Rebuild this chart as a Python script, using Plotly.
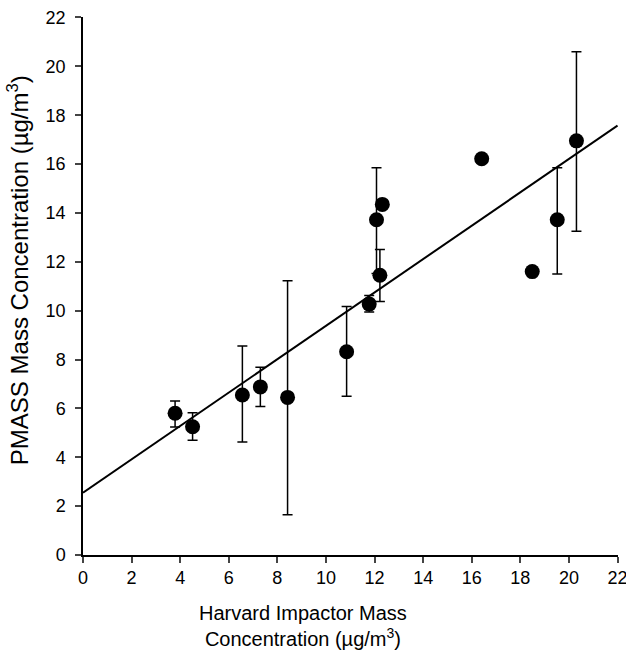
import plotly.graph_objects as go

# Harvard Impactor (x) vs PMASS (y) mass concentration, µg/m³
hi_conc = [3.79, 4.51, 6.56, 7.30, 8.42, 10.85, 11.78, 12.08, 12.22, 12.32, 16.41, 18.49, 19.52, 20.31]
pmass_conc = [5.80, 5.25, 6.55, 6.88, 6.45, 8.32, 10.27, 13.72, 11.45, 14.35, 16.22, 11.60, 13.72, 16.95]
err_upper = [6.30, 5.82, 8.55, 7.68, 11.22, 10.17, 10.62, 15.85, 12.50, 14.35, 16.22, 11.60, 15.85, 20.60]
err_lower = [5.24, 4.70, 4.62, 6.08, 1.65, 6.50, 9.95, 11.52, 10.38, 14.35, 16.22, 11.60, 11.50, 13.25]

# regression line
fit_intercept = 2.55
fit_slope = 0.683
fit_x = [0, 22]

x_ticks = list(range(0, 23, 2))
y_ticks = list(range(0, 23, 2))

plus = [u - y for u, y in zip(err_upper, pmass_conc)]
minus = [y - l for l, y in zip(err_lower, pmass_conc)]

fig = go.Figure()
fig.add_trace(go.Scatter(
    x=fit_x, y=[fit_intercept + fit_slope * v for v in fit_x],
    mode="lines", line=dict(color="black", width=2), hoverinfo="skip", showlegend=False,
    cliponaxis=False))
fig.add_trace(go.Scatter(
    x=hi_conc, y=pmass_conc, mode="markers",
    marker=dict(color="black", size=15, symbol="circle"),
    error_y=dict(type="data", array=plus, arrayminus=minus, symmetric=False,
                 color="black", thickness=1.5, width=5),
    showlegend=False))

font_family = "Liberation Sans, Arial, Helvetica, sans-serif"
fig.update_layout(
    width=626, height=652,
    margin=dict(l=83, r=8, t=17, b=97, autoexpand=False),
    paper_bgcolor="white", plot_bgcolor="white",
    font=dict(family=font_family, size=18, color="black"),
    xaxis=dict(range=[0, 22.02], tickvals=x_ticks, ticks="outside", ticklen=6, tickwidth=1.5,
               showline=True, linecolor="black", linewidth=1.5, showgrid=False, zeroline=False,
               tickfont=dict(size=18), automargin=False, ticklabeloverflow="allow"),
    yaxis=dict(range=[0, 22.02], tickvals=y_ticks, ticks="outside", ticklen=6, tickwidth=1.5,
               showline=True, linecolor="black", linewidth=1.5, showgrid=False, zeroline=False,
               tickfont=dict(size=18), automargin=False, ticklabeloverflow="allow",
               ticklabelstandoff=6),
    annotations=[
        dict(text="Harvard Impactor Mass<br>Concentration (µg/m<sup>3</sup>)",
             xref="paper", yref="paper", x=(303 - 83) / 535, y=-0.084,
             xanchor="center", yanchor="top", showarrow=False,
             font=dict(size=20)),
        dict(text="PMASS Mass Concentration (µg/m<sup>3</sup>)",
             xref="paper", yref="paper", x=-0.153, y=(555 - 270) / 538, textangle=-90,
             xanchor="left", yanchor="middle", showarrow=False,
             font=dict(size=24)),
    ],
)
fig.write_html("out.html", config={"displayModeBar": False},
               post_script="document.body.style.margin='0';document.body.style.padding='0';")
